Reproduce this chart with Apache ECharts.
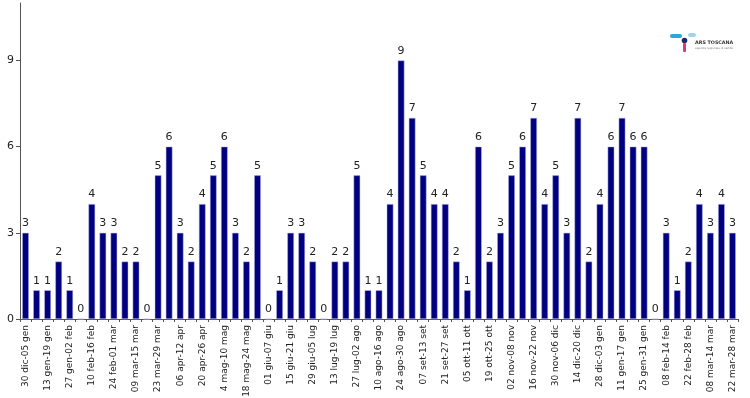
<!DOCTYPE html>
<html>
<head>
<meta charset="utf-8">
<script src="https://cdn.jsdelivr.net/npm/echarts@6/dist/echarts.min.js"></script>
<style>
  html, body { margin: 0; padding: 0; background: #fff; }
  #main { width: 750px; height: 398px; }
</style>
</head>
<body>
<div id="main"></div>
<script>
// settimane (lunedi-domenica)
var weeks = [
  '30 dic-05 gen', '06 gen-12 gen', '13 gen-19 gen', '20 gen-26 gen', '27 gen-02 feb',
  '03 feb-09 feb', '10 feb-16 feb', '17 feb-23 feb', '24 feb-01 mar', '02 mar-08 mar',
  '09 mar-15 mar', '16 mar-22 mar', '23 mar-29 mar', '30 mar-05 apr', '06 apr-12 apr',
  '13 apr-19 apr', '20 apr-26 apr', '27 apr-03 mag', '4 mag-10 mag', '11 mag-17 mag',
  '18 mag-24 mag', '25 mag-31 mag', '01 giu-07 giu', '08 giu-14 giu', '15 giu-21 giu',
  '22 giu-28 giu', '29 giu-05 lug', '06 lug-12 lug', '13 lug-19 lug', '20 lug-26 lug',
  '27 lug-02 ago', '03 ago-09 ago', '10 ago-16 ago', '17 ago-23 ago', '24 ago-30 ago',
  '31 ago-06 set', '07 set-13 set', '14 set-20 set', '21 set-27 set', '28 set-04 ott',
  '05 ott-11 ott', '12 ott-18 ott', '19 ott-25 ott', '26 ott-01 nov', '02 nov-08 nov',
  '09 nov-15 nov', '16 nov-22 nov', '23 nov-29 nov', '30 nov-06 dic', '07 dic-13 dic',
  '14 dic-20 dic', '21 dic-27 dic', '28 dic-03 gen', '04 gen-10 gen', '11 gen-17 gen',
  '18 gen-24 gen', '25 gen-31 gen', '01 feb-07 feb', '08 feb-14 feb', '15 feb-21 feb',
  '22 feb-28 feb', '01 mar-07 mar', '08 mar-14 mar', '15 mar-21 mar', '22 mar-28 mar'
];
var counts = [
  3, 1, 1, 2, 1, 0, 4, 3, 3, 2,
  2, 0, 5, 6, 3, 2, 4, 5, 6, 3,
  2, 5, 0, 1, 3, 3, 2, 0, 2, 2,
  5, 1, 1, 4, 9, 7, 5, 4, 4, 2,
  1, 6, 2, 3, 5, 6, 7, 4, 5, 3,
  7, 2, 4, 6, 7, 6, 6, 0, 3, 1,
  2, 4, 3, 4, 3
];
var yTicks = [0, 3, 6, 9];

var myChart = echarts.init(document.getElementById('main'));
myChart.setOption({
  animation: false,
  textStyle: { fontFamily: 'DejaVu Sans' },
  grid: { left: 20, right: 12, top: 3, bottom: 79, containLabel: false, outerBoundsMode: 'none' },
  xAxis: {
    type: 'category',
    data: weeks,
    boundaryGap: true,
    axisLine: { lineStyle: { color: '#555', width: 1 } },
    axisTick: { show: true, interval: 0, length: 3, lineStyle: { color: '#555' } },
    axisLabel: {
      interval: 1,
      rotate: 90,
      fontSize: 9,
      color: '#222',
      margin: 6
    }
  },
  yAxis: {
    type: 'value',
    min: 0,
    max: 11,
    interval: 3,
    splitLine: { show: false },
    axisLine: { show: true, lineStyle: { color: '#555', width: 1 } },
    axisTick: { show: true, length: 4, customValues: yTicks, lineStyle: { color: '#555' } },
    axisLabel: { customValues: yTicks, fontSize: 11, color: '#222', margin: 6 }
  },
  series: [{
    type: 'bar',
    data: counts,
    barCategoryGap: '40%',
    itemStyle: { color: '#000080', borderColor: '#b8b8e0', borderWidth: 0.5 },
    label: {
      show: true,
      position: 'top',
      distance: 4,
      fontSize: 11,
      color: '#222'
    }
  }],
  graphic: [
    // logo ARS Toscana
    { type: 'rect', shape: { x: 670, y: 34, width: 12, height: 4, r: 2 }, style: { fill: '#2aa6e0' } },
    { type: 'rect', shape: { x: 688, y: 33, width: 8, height: 4, r: 2 }, style: { fill: '#9fd4ee' } },
    { type: 'circle', shape: { cx: 684.5, cy: 40.5, r: 2.8 }, style: { fill: '#1c2a6b' } },
    { type: 'rect', shape: { x: 683, y: 43, width: 3, height: 9, r: 1 }, style: { fill: '#e0357a' } },
    { type: 'text', left: 695, top: 40, style: { text: 'ARS TOSCANA', fontSize: 4.8, fontWeight: 'bold', fill: '#333', fontFamily: 'DejaVu Sans' } },
    { type: 'text', left: 695, top: 46.5, style: { text: 'agenzia regionale di sanità', fontSize: 2.8, fill: '#777', fontFamily: 'DejaVu Sans' } }
  ]
});
</script>
</body>
</html>
